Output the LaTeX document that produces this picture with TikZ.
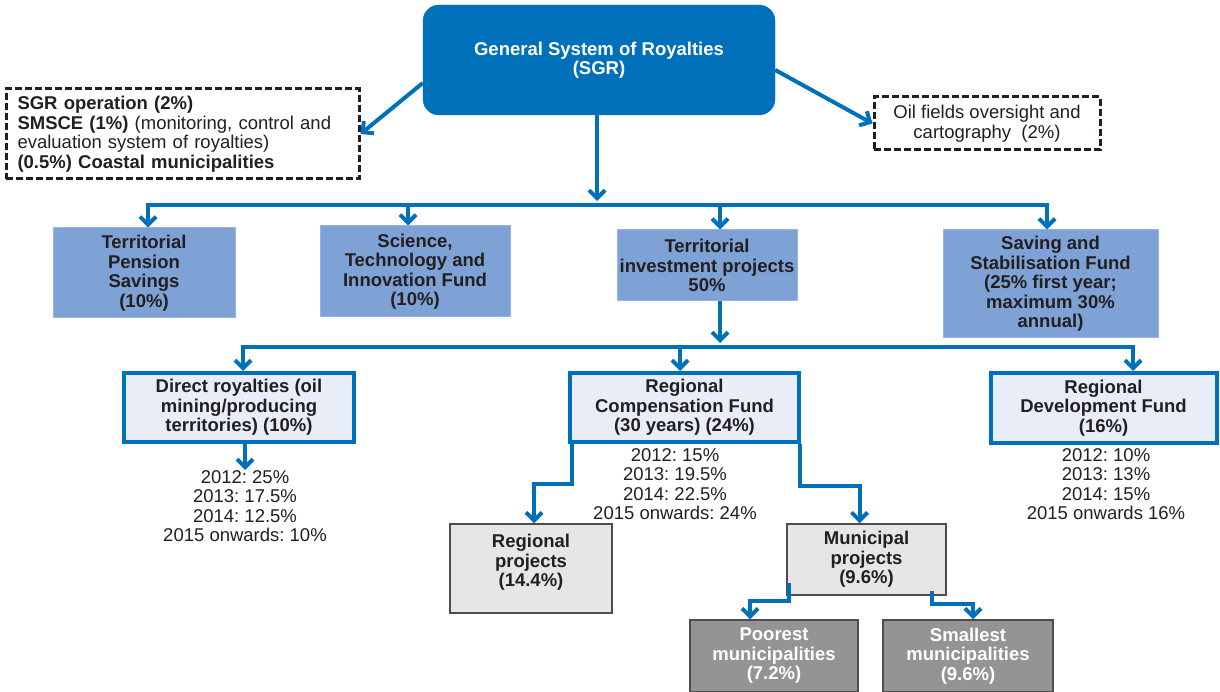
\documentclass[tikz,border=0pt]{standalone}
\usepackage{fontspec}
\setmainfont{Liberation Sans}
\frenchspacing
\usetikzlibrary{arrows.meta}
\definecolor{sgrblue}{RGB}{0,112,186}
\definecolor{midblue}{RGB}{126,161,214}
\definecolor{midborder}{RGB}{150,180,225}
\definecolor{lightblue}{RGB}{232,237,248}
\definecolor{lightgray}{RGB}{230,230,230}
\definecolor{darkgray}{RGB}{148,148,150}
\definecolor{txt}{RGB}{35,31,32}
\begin{document}
\begin{tikzpicture}[x=1pt,y=-1pt,
  font=\fontsize{18.5}{19.5}\selectfont,
  conn/.style={draw=sgrblue, line width=4pt, line cap=rect},
  arr/.style={draw=sgrblue, line width=4pt, -{Straight Barb[length=8pt,width=16pt]}},
  sgrbox/.style={fill=sgrblue, draw=sgrblue, rounded corners=16pt, text=white, font=\fontsize{18.5}{19.5}\selectfont\bfseries, align=center, inner sep=0pt},
  dashbox/.style={draw=txt, line width=3pt, dash pattern=on 7pt off 3pt, fill=white, text=txt, inner sep=0pt},
  midbox/.style={fill=midblue, draw=midborder, line width=1pt, text=txt, font=\fontsize{18.5}{19.5}\selectfont\bfseries, align=center, inner sep=0pt},
  fundbox/.style={fill=lightblue, draw=sgrblue, line width=4pt, text=txt, font=\fontsize{18.5}{19.5}\selectfont\bfseries, align=center, inner sep=0pt},
  graybox/.style={fill=lightgray, draw=txt!80, line width=1.5pt, inner sep=0pt},
  darkbox/.style={fill=darkgray, draw=txt!80, line width=1.5pt, text=white, font=\fontsize{18.5}{19.5}\selectfont\bfseries, align=center, inner sep=0pt},
  boldtext/.style={text=txt, font=\fontsize{18.5}{19.5}\selectfont\bfseries, align=center, inner sep=0pt},
  yeartext/.style={text=txt, align=center, inner sep=0pt}
]
\useasboundingbox (0,0) rectangle (1220,692);

% top
\node[sgrbox, minimum width=352pt, minimum height=110pt] (sgr) at (599,60) {General System of Royalties\\(SGR)};
\node[dashbox, minimum width=353pt, minimum height=90pt, text width=330pt, align=left] (op) at (182.5,134)
 {{\bfseries SGR operation (2\%)}\\{\bfseries SMSCE (1\%)} (monitoring, control and\\evaluation system of royalties)\\{\bfseries (0.5\%) Coastal municipalities}};
\node[dashbox, minimum width=226pt, minimum height=53pt, align=center] (oil) at (987,123.5) {Oil fields oversight and\\cartography~ (2\%)};

% second row
\node[midbox, minimum width=182pt, minimum height=90pt] (tps) at (144,273) {Territorial\\Pension\\Savings\\(10\%)};
\node[midbox, minimum width=190pt, minimum height=91pt] (sti) at (415,271.5) {Science,\\Technology and\\Innovation Fund\\(10\%)};
\node[midbox, minimum width=180pt, minimum height=71pt] (tip) at (707,265.5) {Territorial\\investment projects\\50\%};
\node[midbox, minimum width=215pt, minimum height=108pt] (ssf) at (1050.5,284) {Saving and\\Stabilisation Fund\\(25\% first year;\\maximum 30\%\\annual)};

% third row
\node[fundbox, minimum width=230pt, minimum height=69pt] (dr) at (239,407.5) {Direct royalties (oil\\mining/producing\\territories) (10\%)};
\node[fundbox, minimum width=229pt, minimum height=69pt] (rcf) at (684.5,407.5) {Regional\\Compensation Fund\\(30 years) (24\%)};
\node[fundbox, minimum width=226pt, minimum height=70pt] (rdf) at (1103.5,408) {Regional\\Development Fund\\(16\%)};

\node[yeartext, anchor=north] (drt) at (245,470) {2012: 25\%\\2013: 17.5\%\\2014: 12.5\%\\2015 onwards: 10\%};
\node[yeartext, anchor=north] (rcft) at (675,448) {2012: 15\%\\2013: 19.5\%\\2014: 22.5\%\\2015 onwards: 24\%};
\node[yeartext, anchor=north] (rdft) at (1106,448) {2012: 10\%\\2013: 13\%\\2014: 15\%\\2015 onwards 16\%};

% fourth row
\node[graybox, minimum width=162pt, minimum height=89pt] (rp) at (531,568.5) {};
\node[boldtext, anchor=north] (rpt) at (531,534) {Regional\\projects\\(14.4\%)};
\node[graybox, minimum width=159pt, minimum height=71pt, text=txt, font=\fontsize{18.5}{19.5}\selectfont\bfseries, align=center] (mp) at (866.5,559.5) {Municipal\\projects\\(9.6\%)};
\node[darkbox, minimum width=168pt, minimum height=72pt] (poor) at (774,656) {Poorest\\municipalities\\(7.2\%)};
\node[darkbox, minimum width=170pt, minimum height=72pt] (small) at (968,656) {Smallest\\municipalities\\(9.6\%)};

% connectors from SGR
\draw[arr] ([yshift=-23pt]sgr.west) -- (op.east);
\draw[arr] ([yshift=-10pt]sgr.east) -- (oil.west);
\coordinate (j1) at (597,201);
\draw[arr] (sgr.south -| j1) -- (j1);

% first bar
\coordinate (b1l) at (148,205);
\coordinate (b1a) at (408,205);
\coordinate (b1b) at (720,205);
\coordinate (b1r) at (1047,205);
\draw[conn] (b1l) -- (b1r);
\draw[arr] (b1l) -- (b1l |- tps.north);
\draw[arr] (b1a) -- (b1a |- sti.north);
\draw[arr] (b1b) -- (b1b |- tip.north);
\draw[arr] (b1r) -- (b1r |- ssf.north);

% second bar
\coordinate (j2) at (720,343);
\draw[arr] (tip.south -| j2) -- (j2);
\coordinate (b2l) at (243,347);
\coordinate (b2m) at (680,347);
\coordinate (b2r) at (1133,347);
\draw[conn] (b2l) -- (b2r);
\draw[arr] (b2l) -- (b2l |- dr.north);
\draw[arr] (b2m) -- (b2m |- rcf.north);
\draw[arr] (b2r) -- (b2r |- rdf.north);

% below funds
\draw[arr] (dr.south -| drt.north) -- (drt.north);
\draw[arr] ([xshift=4pt]rcf.south west) -- ++(0,40) -| ([xshift=3pt]rp.north);
\draw[arr] ([xshift=-1pt]rcf.south east) -- ++(0,42) -| ([xshift=-7pt]mp.north);
\draw[arr] ([xshift=3pt,yshift=13pt]mp.south west) -- ++(0,18) -| ([xshift=-24pt]poor.north);
\draw[arr] ([xshift=-15pt,yshift=5pt]mp.south east) -- ++(0,13) -| ([xshift=5pt]small.north);
\end{tikzpicture}
\end{document}
